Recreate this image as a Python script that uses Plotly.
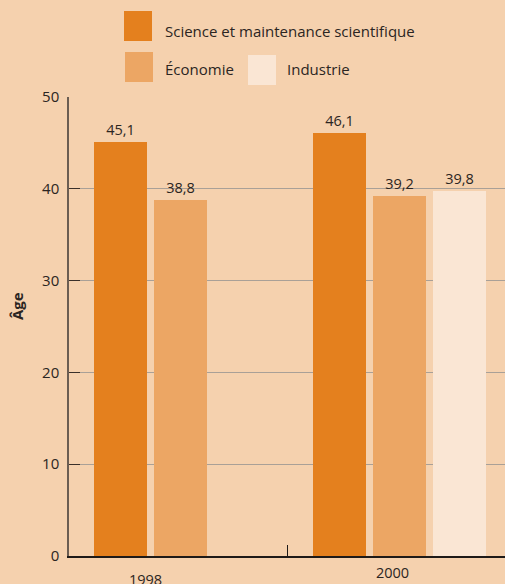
import plotly.graph_objects as go

years = ["1998", "2000"]
series_names = ["Science et maintenance scientifique", "Économie", "Industrie"]
science = [45.1, 46.1]
economie = [38.8, 39.2]
industrie = [None, 39.8]
y_ticks = [0, 10, 20, 30, 40, 50]

colors = ["#E4801E", "#ECA664", "#FAE6D4"]
bg = "#F5D1AE"
font_family = "Open Sans, Noto Sans, sans-serif"
txt_color = "#2b2522"

# slot positions (x axis unit = one bar slot)
group_start = [0.858, 4.508]
slot = 1.0
bar_w = 0.883

fig = go.Figure()
for si, (name, vals) in enumerate(zip(series_names, [science, economie, industrie])):
    xs, ys = [], []
    for gi, v in enumerate(vals):
        if v is None:
            continue
        xs.append(group_start[gi] + si * slot)
        ys.append(v)
    fig.add_trace(go.Bar(
        x=xs, y=ys, name=name, width=bar_w,
        marker=dict(color=colors[si], line=dict(width=0)),
        text=ys, texttemplate="%{y:.1f}", textposition="outside",
        textfont=dict(family=font_family, size=14.5, color=txt_color),
        cliponaxis=False, showlegend=False,
    ))

PL, PT, PB = 69, 97, 556
W, H = 505, 584
fig.update_layout(
    width=W, height=H,
    margin=dict(l=PL, r=0, t=PT, b=H - PB),
    paper_bgcolor=bg, plot_bgcolor=bg,
    separators=", ",
    font=dict(family=font_family, size=15, color=txt_color),
    bargap=0,
    xaxis=dict(range=[0, 7.267], showgrid=False, zeroline=False,
               showline=True, linecolor="#1e1a18", linewidth=1.5,
               tickvals=[3.65], ticks="inside", ticklen=11, tickcolor="#1e1a18",
               tickwidth=1.2, showticklabels=False),
    yaxis=dict(range=[0, 50], tickvals=y_ticks, showgrid=True, gridcolor="#A9A097",
               gridwidth=1.2, zeroline=False, showline=True, linecolor="#6b5d52",
               linewidth=1.5, ticks="inside", ticklen=11, tickcolor="#3a302a",
               tickwidth=1.2, ticklabelstandoff=5,
               tickfont=dict(size=15, color=txt_color)),
)

def px_x(px):
    return (px - PL) / (W - PL)
def px_y(py):
    return (PB - py) / (PB - PT)

# axis title
fig.add_annotation(xref="paper", yref="paper", x=px_x(17), y=px_y(306), text="<b>Âge</b>",
                   textangle=-90, showarrow=False, xanchor="center", yanchor="middle",
                   font=dict(size=15, color=txt_color))

# year labels
year_x = [1.267, 5.4]
year_py = [579, 572]
for yr, xv, yv in zip(years, year_x, year_py):
    fig.add_annotation(x=xv, y=px_y(yv), xref="x", yref="paper", text=yr, showarrow=False,
                       font=dict(size=14.5, color=txt_color), yanchor="middle")

# custom legend
legend_items = [
    (series_names[0], 124, 11, 165, 31),
    (series_names[1], 125, 52, 165, 69),
    (series_names[2], 248, 55, 287, 69),
]
for i, (name, sx, sy, tx, ty) in enumerate(legend_items):
    fig.add_shape(type="rect", xref="paper", yref="paper",
                  x0=px_x(sx), x1=px_x(sx + 28),
                  y0=px_y(sy), y1=px_y(sy + 30),
                  fillcolor=colors[i], line=dict(width=0))
    fig.add_annotation(xref="paper", yref="paper", x=px_x(tx - 2),
                       y=px_y(ty), text=name, showarrow=False,
                       xanchor="left", yanchor="middle",
                       font=dict(size=15, color=txt_color))

fig.write_html("out.html",
               config={"displayModeBar": False},
               post_script="document.body.style.margin='0';document.body.style.overflow='hidden';"
                           "document.documentElement.style.overflow='hidden';")
